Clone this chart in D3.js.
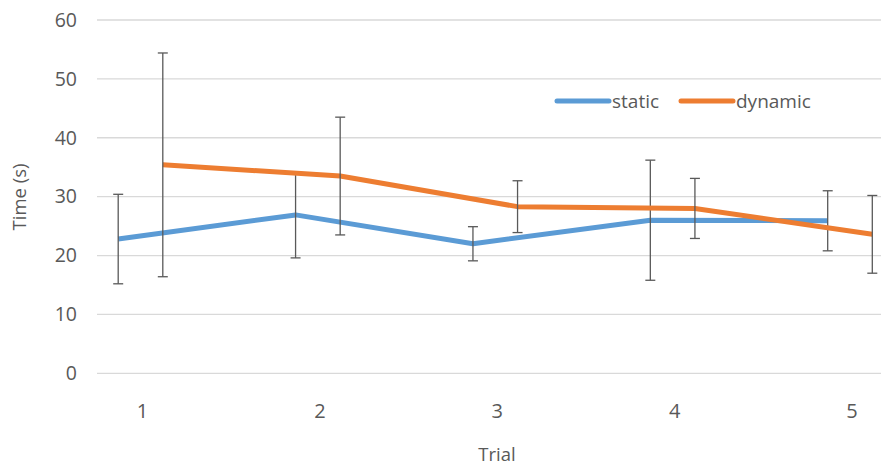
<!DOCTYPE html>
<html>
<head>
<meta charset="utf-8">
<script src="https://cdn.jsdelivr.net/npm/d3@7"></script>
<style>
    body { margin: 0; background: #fff; }
    text { font-family: "Open Sans", "Noto Sans", sans-serif; fill: #595959; }
</style>
</head>
<body>
<div id="wrapper"></div>
<script>
const trials = ["1", "2", "3", "4", "5"];
const staticMean = [22.8, 26.9, 22.0, 26.0, 25.9];
const staticErr = [7.6, 7.3, 2.9, 10.2, 5.1];
const dynamicMean = [35.4, 33.5, 28.3, 28.0, 23.6];
const dynamicErr = [19.0, 10.0, 4.4, 5.1, 6.6];
const yTicks = [0, 10, 20, 30, 40, 50, 60];

function build() {
    var dimension = {
        width: 881,
        height: 468,
        margin: { top: 20, right: 0, bottom: 95, left: 97 }
    };

    const wrapper = d3.select("#wrapper")
        .append("svg")
        .attr("width", dimension.width)
        .attr("height", dimension.height);

    const y = d3.scaleLinear()
        .domain([0, 60])
        .range([373.3, 20]);

    const x = d3.scalePoint()
        .domain(trials)
        .range([140.5, 850]);

    const offset = 22.3;

    const series = [
        { name: "static", color: "#5B9BD5", mean: staticMean, err: staticErr, dx: -offset },
        { name: "dynamic", color: "#ED7D31", mean: dynamicMean, err: dynamicErr, dx: offset }
    ];

    // grid
    wrapper.append("g")
        .selectAll("line")
        .data(yTicks)
        .enter()
        .append("line")
        .attr("x1", dimension.margin.left)
        .attr("x2", dimension.width)
        .attr("y1", d => y(d))
        .attr("y2", d => y(d))
        .attr("stroke", "#d9d9d9")
        .attr("stroke-width", 1.3);

    wrapper.append("g")
        .selectAll("text")
        .data(yTicks)
        .enter()
        .append("text")
        .attr("x", 77)
        .attr("y", d => y(d))
        .attr("dy", "0.35em")
        .style("text-anchor", "end")
        .style("font-size", "19.5px")
        .text(d => d);

    wrapper.append("g")
        .selectAll("text")
        .data(trials)
        .enter()
        .append("text")
        .attr("x", d => x(d) + 2)
        .attr("y", 411)
        .attr("dy", "0.35em")
        .style("text-anchor", "middle")
        .style("font-size", "20px")
        .text(d => d);

    wrapper.append("text")
        .attr("x", 497)
        .attr("y", 455)
        .attr("dy", "0.35em")
        .style("text-anchor", "middle")
        .style("font-size", "18.5px")
        .text("Trial");

    wrapper.append("text")
        .attr("transform", "translate(20,197) rotate(-90)")
        .attr("dy", "0.35em")
        .style("text-anchor", "middle")
        .style("font-size", "18.5px")
        .text("Time (s)");

    const line = d3.line()
        .x(d => d.x)
        .y(d => y(d.v));

    series.forEach(s => {
        const pts = trials.map((t, i) => ({ x: x(t) + s.dx, v: s.mean[i], e: s.err[i] }));

        wrapper.append("path")
            .datum(pts)
            .attr("d", line)
            .attr("fill", "none")
            .attr("stroke", s.color)
            .attr("stroke-width", 5)
            .attr("stroke-linejoin", "round");

        const bars = wrapper.append("g")
            .attr("stroke", "#595959")
            .attr("stroke-width", 1.3)
            .selectAll("g")
            .data(pts)
            .enter()
            .append("g");

        bars.append("line")
            .attr("x1", d => d.x).attr("x2", d => d.x)
            .attr("y1", d => y(d.v + d.e)).attr("y2", d => y(d.v - d.e));
        bars.append("line")
            .attr("x1", d => d.x - 5).attr("x2", d => d.x + 5)
            .attr("y1", d => y(d.v + d.e)).attr("y2", d => y(d.v + d.e));
        bars.append("line")
            .attr("x1", d => d.x - 5).attr("x2", d => d.x + 5)
            .attr("y1", d => y(d.v - d.e)).attr("y2", d => y(d.v - d.e));
    });

    // legend
    const legend = wrapper.append("g")
        .attr("transform", "translate(557,101)");
    const items = [
        { name: "static", color: "#5B9BD5", x: 0 },
        { name: "dynamic", color: "#ED7D31", x: 124 }
    ];
    items.forEach(it => {
        legend.append("line")
            .attr("x1", it.x).attr("x2", it.x + 52)
            .attr("y1", 0).attr("y2", 0)
            .attr("stroke", it.color)
            .attr("stroke-width", 5)
            .attr("stroke-linecap", "round");
        legend.append("text")
            .attr("x", it.x + 55)
            .attr("y", 0)
            .attr("dy", "0.35em")
            .style("font-size", "19px")
            .text(it.name);
    });
}

build();
</script>
</body>
</html>
